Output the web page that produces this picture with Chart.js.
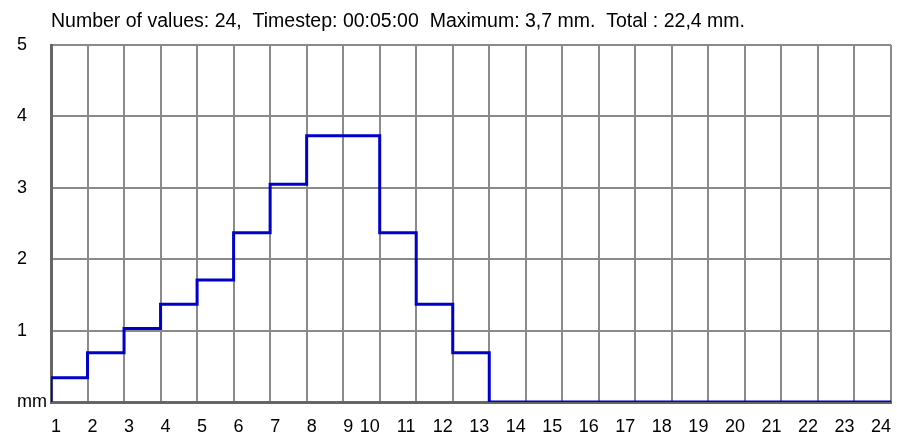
<!DOCTYPE html>
<html>
<head>
<meta charset="utf-8">
<script src="https://cdn.jsdelivr.net/npm/chart.js@4/dist/chart.umd.min.js"></script>
<style>
    html, body { margin: 0; padding: 0; background: #fff; }
    canvas { display: block; }
</style>
</head>
<body>
<canvas id="rain" width="897" height="439"></canvas>
<script>
// time step index (1..24) and rainfall per step in mm
const steps  = [1, 2, 3, 4, 5, 6, 7, 8, 9, 10, 11, 12, 13, 14, 15, 16, 17, 18, 19, 20, 21, 22, 23, 24];
const values = [0.34, 0.69, 1.03, 1.37, 1.71, 2.37, 3.05, 3.73, 3.73, 2.37, 1.37, 0.69,
                0, 0, 0, 0, 0, 0, 0, 0, 0, 0, 0, 0];
const yTicks = ['mm', '1', '2', '3', '4', '5'];
const title  = 'Number of values: 24,  Timestep: 00:05:00  Maximum: 3,7 mm.  Total : 22,4 mm.';

const FONT = 'Liberation Sans, Arial, sans-serif';
const FIG  = '\u2007'; // figure space, same width as a digit

// step line starts on the axis at the first step
const points = [{x: steps[0], y: 0}].concat(steps.map((s, i) => ({x: s, y: values[i]})));

new Chart(document.getElementById('rain').getContext('2d'), {
    type: 'line',
    data: {
        datasets: [{
            data: points,
            stepped: true,
            borderColor: '#0000c8',
            borderWidth: 3,
            pointRadius: 0,
            fill: false
        }]
    },
    options: {
        responsive: false,
        animation: false,
        layout: { padding: { left: 17, right: 6, top: 0, bottom: 0 } },
        plugins: {
            legend: { display: false },
            tooltip: { enabled: false },
            title: {
                display: true,
                text: title,
                align: 'start',
                fullSize: false,
                color: '#000',
                font: { family: FONT, size: 19.5, weight: 'normal' },
                padding: { top: 9.5, bottom: 12.1 }
            }
        },
        scales: {
            x: {
                type: 'linear',
                min: steps[0],
                max: steps[steps.length - 1],
                grid: { color: '#8a8a8a', lineWidth: 2, drawTicks: false },
                border: { color: '#666', width: 3 },
                ticks: {
                    stepSize: 1,
                    color: '#000',
                    padding: 14,
                    maxRotation: 0,
                    autoSkip: false,
                    font: { family: FONT, size: 18 },
                    callback: (v) => {
                        const s = String(v);
                        return s.length === 1 ? FIG + s : s + FIG + FIG;
                    }
                },
                afterFit: (s) => {
                    s.height = 37;
                    s.paddingLeft = 0;
                    s.paddingRight = 0;
                }
            },
            y: {
                min: 0,
                max: 5,
                grid: { color: '#8a8a8a', lineWidth: 2, drawTicks: false },
                border: { color: '#666', width: 3 },
                ticks: {
                    stepSize: 1,
                    color: '#000',
                    crossAlign: 'far',
                    font: { family: FONT, size: 18 },
                    callback: (v) => yTicks[v]
                },
                afterFit: (s) => {
                    s.width = 34;
                }
            }
        }
    }
});
</script>
</body>
</html>
